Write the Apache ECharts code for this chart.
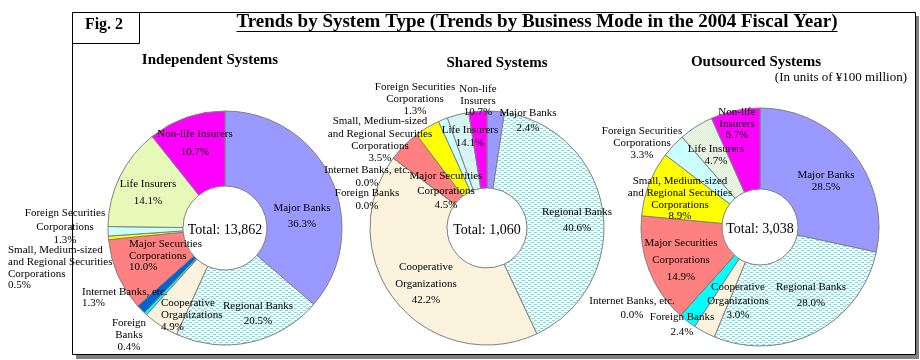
<!DOCTYPE html>
<html>
<head>
<meta charset="utf-8">
<script src="https://cdn.jsdelivr.net/npm/echarts@6/dist/echarts.min.js"></script>
<style>html,body{margin:0;padding:0;background:#fff}#c{width:920px;height:360px}</style>
</head>
<body>
<div id="c"></div>
<script>
// ---- data ----
const pieTitles = ["Independent Systems", "Shared Systems", "Outsourced Systems"];
const totals = [13862, 1060, 3038];
const categories = ["Major Banks", "Regional Banks", "Cooperative Organizations", "Foreign Banks", "Internet Banks, etc.", "Major Securities Corporations", "Small, Medium-sized and Regional Securities Corporations", "Foreign Securities Corporations", "Life Insurers", "Non-life Insurers"];
const independentValues = [36.3, 20.5, 4.9, 0.4, 1.3, 10.0, 0.5, 1.3, 14.1, 10.7];
const sharedValues = [2.4, 40.6, 42.2, 0.0, 0.0, 4.5, 3.5, 1.3, 3.0, 2.5];
const outsourcedValues = [28.5, 28.0, 3.0, 2.4, 0.0, 14.9, 8.9, 3.3, 4.7, 6.7];
const independentPctText = ["36.3%", "20.5%", "4.9%", "0.4%", "1.3%", "10.0%", "0.5%", "1.3%", "14.1%", "10.7%"];
const sharedPctText = ["2.4%", "40.6%", "42.2%", "0.0%", "0.0%", "4.5%", "3.5%", "1.3%", "14.1%", "10.7%"];
const outsourcedPctText = ["28.5%", "28.0%", "3.0%", "2.4%", "0.0%", "14.9%", "8.9%", "3.3%", "4.7%", "6.7%"];
const independentNameText = ["Major Banks", "Regional Banks", "Cooperative\nOrganizations", "Foreign\nBanks", "Internet Banks, etc.", "Major Securities\nCorporations", "Small, Medium-sized\nand Regional Securities\nCorporations", "Foreign Securities\nCorporations", "Life Insurers", "Non-life Insurers"];
const sharedNameText = ["Major Banks", "Regional Banks", "Cooperative\nOrganizations", "Foreign Banks", "Internet Banks, etc.", "Major Securities\nCorporations", "Small, Medium-sized\nand Regional Securities\nCorporations", "Foreign Securities\nCorporations", "Life Insurers", "Non-life\nInsurers"];
const outsourcedNameText = ["Major Banks", "Regional Banks", "Cooperative\nOrganizations", "Foreign Banks", "Internet Banks, etc.", "Major Securities\nCorporations", "Small, Medium-sized\nand Regional Securities\nCorporations", "Foreign Securities\nCorporations", "Life Insurers", "Non-life\nInsurers"];
const mainTitle = "Trends by System Type (Trends by Business Mode in the 2004 Fiscal Year)";
const figLabel = "Fig. 2";
const unitNote = "(In units of \u00a5100 million)";

// ---- layout / style ----
const centers = [[225, 228], [487, 228], [760, 227]];
const radii = [[42, 117], [40, 117], [38, 119]];
// label placement relative to pie centre: [dx, dy, lineHeight, align]
const labelLayouts = [
  [[77, -12, 16], [33, 86, 15], [-64, 87, 12, 'left'], [-96, 107, 12], [-143, 70, 11, 'left'], [-96, 28, 11.5, 'left'], [-217, 40, 11.7, 'left'], [-160, -1, 13.5], [-77, -35, 17], [-30, -85, 18]],
  [[41, -107, 15], [90, -8, 16], [-61, 56, 16.5], [-120, -28, 13], [-120, -51, 13], [-41, -37, 14.5], [-107, -88, 12.3], [-72, -129, 12], [-17, -91, 13], [-9, -127, 11.5]],
  [[66, -46, 12], [51, 68, 16], [-22, 74, 14], [-78, 98, 15], [-128, 81, 14], [-79, 33, 17], [-80, -28, 11.7], [-118, -84, 12], [-44, -72, 12], [-23, -103, 11.5]]
];

function pattern(bg, fg, cells, w, h) {
  const c = document.createElement('canvas');
  c.width = w; c.height = h;
  const g = c.getContext('2d');
  g.fillStyle = bg; g.fillRect(0, 0, w, h);
  g.fillStyle = fg;
  cells.forEach(r => g.fillRect(r[0], r[1], r[2], r[3]));
  return { image: c, repeat: 'repeat' };
}
const regionalFill = pattern('#EAFCFC', '#86D8D8', [[0, 0, 3, 1], [3, 2, 3, 1]], 6, 4);
const coopFill = pattern('#FCF1DA', '#FFF8EC', [[0, 0, 1, 1], [2, 2, 1, 1]], 4, 4);
const lifeFill1 = pattern('#DDF7A6', '#EEFFCC', [[0, 0, 1, 1], [1, 1, 1, 1]], 2, 2);
const lifeFill2 = pattern('#D2F4F4', '#F4FFFF', [[0, 0, 1, 1], [2, 2, 1, 1]], 4, 4);
const lifeFill3 = pattern('#D8EDD2', '#F2FAEE', [[0, 0, 1, 1], [1, 1, 1, 1]], 2, 2);
const baseColors = ['#9999FF', regionalFill, coopFill, '#00FFFF', '#0066CC', '#FF8080', '#FFFF00', '#CCFFFF', null, '#FF00FF'];
const lifeFills = [lifeFill1, lifeFill2, lifeFill3];

const serif = '"Liberation Serif", "Times New Roman", serif';
const valuesList = [independentValues, sharedValues, outsourcedValues];
const pctList = [independentPctText, sharedPctText, outsourcedPctText];
const nameList = [independentNameText, sharedNameText, outsourcedNameText];

const series = valuesList.map((vals, s) => ({
  type: 'pie',
  center: centers[s],
  radius: radii[s],
  startAngle: 90,
  clockwise: true,
  avoidLabelOverlap: false,
  silent: true,
  animation: false,
  itemStyle: { borderColor: '#808080', borderWidth: 1 },
  labelLine: { show: false },
  emphasis: { disabled: true },
  label: {
    show: true, position: 'inside', color: '#000', fontFamily: serif, fontSize: 11,
    formatter: p => nameList[s][p.dataIndex] + '\n' + pctList[s][p.dataIndex]
  },
  labelLayout: p => {
    const L = labelLayouts[s][p.dataIndex];
    return { x: centers[s][0] + L[0], y: centers[s][1] + L[1], align: L[3] || 'center', verticalAlign: 'middle' };
  },
  data: vals.map((v, i) => ({
    value: v,
    name: categories[i],
    itemStyle: { color: baseColors[i] === null ? lifeFills[s] : baseColors[i] },
    label: { lineHeight: labelLayouts[s][i][2], align: labelLayouts[s][i][3] || 'center' }
  }))
}));

// measure title for underline
const titleFont = 'bold 19px ' + serif;
const mc = document.createElement('canvas').getContext('2d');
mc.font = titleFont;
const titleW = mc.measureText(mainTitle).width;
const titleCX = 537;

const graphic = [
  { type: 'rect', z: -10, shape: { x: 76, y: 16, width: 843, height: 343 }, style: { fill: '#808080' } },
  { type: 'rect', z: -9, shape: { x: 72.5, y: 12.5, width: 843, height: 342 }, style: { fill: '#fff', stroke: '#000', lineWidth: 1 } },
  { type: 'rect', z: -8, shape: { x: 72.5, y: 12.5, width: 67, height: 31 }, style: { fill: 'none', stroke: '#000', lineWidth: 1 } },
  { type: 'text', z: 5, style: { text: figLabel, x: 104, y: 25, align: 'center', verticalAlign: 'middle', font: 'bold 16px ' + serif, fill: '#000' } },
  { type: 'text', z: 5, style: { text: mainTitle, x: titleCX, y: 22, align: 'center', verticalAlign: 'middle', font: titleFont, fill: '#000' } },
  { type: 'line', z: 5, shape: { x1: titleCX - titleW / 2, y1: 31.5, x2: titleCX + titleW / 2, y2: 31.5 }, style: { stroke: '#000', lineWidth: 1 } },
  { type: 'text', z: 5, style: { text: pieTitles[0], x: 210, y: 60, align: 'center', verticalAlign: 'middle', font: 'bold 15px ' + serif, fill: '#000' } },
  { type: 'text', z: 5, style: { text: pieTitles[1], x: 497, y: 63, align: 'center', verticalAlign: 'middle', font: 'bold 15px ' + serif, fill: '#000' } },
  { type: 'text', z: 5, style: { text: pieTitles[2], x: 756, y: 62, align: 'center', verticalAlign: 'middle', font: 'bold 15px ' + serif, fill: '#000' } },
  { type: 'text', z: 5, style: { text: unitNote, x: 907, y: 78, align: 'right', verticalAlign: 'middle', font: '13px ' + serif, fill: '#000' } }
];
totals.forEach((t, s) => {
  graphic.push({ type: 'text', z: 5, style: { text: 'Total: ' + t.toLocaleString('en-US'), x: centers[s][0], y: centers[s][1] + 2, align: 'center', verticalAlign: 'middle', font: '14px ' + serif, fill: '#000' } });
});

const chart = echarts.init(document.getElementById('c'), null, { renderer: 'canvas' });
chart.setOption({ animation: false, backgroundColor: '#fff', graphic: graphic, series: series });
</script>
</body>
</html>
